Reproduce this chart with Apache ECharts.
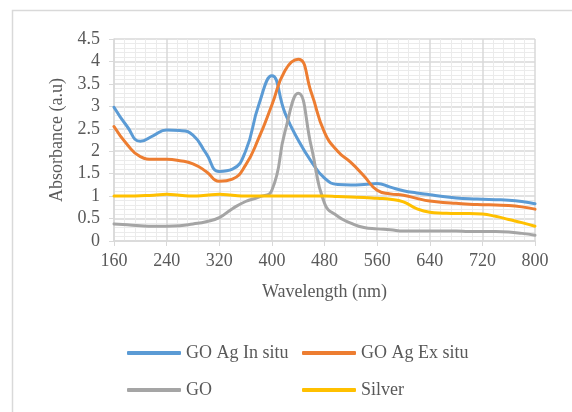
<!DOCTYPE html>
<html><head><meta charset="utf-8">
<script src="https://cdn.jsdelivr.net/npm/echarts@6/dist/echarts.min.js"></script>
<style>html,body{margin:0;padding:0;background:#fff}#c{width:572px;height:412px}</style>
</head><body><div id="c"></div>
<script>
var wavelengths = [160,180,200,220,240,260,280,300,320,340,360,380,400,420,440,460,480,500,520,540,560,580,600,620,640,660,680,700,720,740,760,780,800];
var goAgInSitu = [2.98,2.55,2.22,2.35,2.47,2.46,2.36,1.95,1.55,1.6,2.0,3.03,3.68,2.85,2.25,1.77,1.40,1.26,1.25,1.26,1.28,1.20,1.12,1.07,1.03,0.99,0.96,0.94,0.93,0.92,0.91,0.88,0.83];
var goAgExSitu = [2.55,2.15,1.88,1.82,1.82,1.79,1.72,1.55,1.33,1.38,1.69,2.29,3.03,3.8,4.05,3.3,2.42,2.0,1.75,1.45,1.13,1.05,1.02,0.95,0.89,0.86,0.84,0.82,0.81,0.80,0.79,0.76,0.71];
var goValues = [0.38,0.36,0.34,0.33,0.33,0.34,0.38,0.43,0.52,0.72,0.88,0.98,1.13,2.44,3.29,2.1,0.84,0.55,0.4,0.3,0.27,0.25,0.22,0.22,0.22,0.22,0.22,0.21,0.21,0.21,0.2,0.17,0.13];
var silverValues = [1.0,1.0,1.01,1.02,1.04,1.02,1.0,1.02,1.04,1.02,1.0,1.0,1.0,1.0,1.0,1.0,1.0,0.99,0.98,0.97,0.95,0.93,0.87,0.72,0.64,0.62,0.61,0.61,0.60,0.55,0.48,0.41,0.33];
var xTicks = [160,240,320,400,480,560,640,720,800];
var yTicks = [0,0.5,1,1.5,2,2.5,3,3.5,4,4.5];

function pairs(vals){ return wavelengths.map(function(w,i){ return [w, vals[i]]; }); }
var font = '"Liberation Serif", "Times New Roman", serif';
function mk(name, vals, color){
  return {name:name, type:'line', data:pairs(vals), smooth:0.5, symbol:'none',
    lineStyle:{color:color, width:3, cap:'round'}, itemStyle:{color:color}};
}
var chart = echarts.init(document.getElementById('c'));
chart.setOption({
  animation:false,
  graphic:[{type:'rect', shape:{x:12.5,y:10.5,width:600,height:500}, style:{fill:'none', stroke:'#d9d9d9', lineWidth:1.5}, silent:true}],
  grid:{left:114, right:37, top:39, bottom:171},
  legend:[
    {left:127, top:344, padding:0, orient:'vertical', itemGap:19, itemWidth:54, itemHeight:4, icon:'roundRect',
     textStyle:{fontFamily:font, fontSize:18, color:'#595959'}, data:['GO Ag In situ','GO']},
    {left:302, top:344, padding:0, orient:'vertical', itemGap:19, itemWidth:54, itemHeight:4, icon:'roundRect',
     textStyle:{fontFamily:font, fontSize:18, color:'#595959'}, data:['GO Ag Ex situ','Silver']}
  ],
  xAxis:{type:'value', min:xTicks[0], max:xTicks[xTicks.length-1], interval:80,
    name:'Wavelength (nm)', nameLocation:'middle', nameGap:42,
    nameTextStyle:{fontFamily:font, fontSize:18, color:'#595959'},
    axisLine:{show:true, lineStyle:{color:'#d9d9d9', width:1.5}},
    axisTick:{show:true, length:5, lineStyle:{color:'#d9d9d9'}},
    axisLabel:{fontFamily:font, fontSize:18, color:'#595959', margin:11},
    splitLine:{show:true, lineStyle:{color:'#d9d9d9', width:1.5}},
    minorTick:{show:false, splitNumber:5},
    minorSplitLine:{show:true, lineStyle:{color:'#ebebeb', width:1}}},
  yAxis:{type:'value', min:yTicks[0], max:yTicks[yTicks.length-1], interval:0.5,
    name:'Absorbance (a.u)', nameLocation:'middle', nameGap:47,
    nameTextStyle:{fontFamily:font, fontSize:18, color:'#595959'},
    axisLine:{show:true, lineStyle:{color:'#d9d9d9', width:1.5}},
    axisTick:{show:true, length:5, lineStyle:{color:'#d9d9d9'}},
    axisLabel:{fontFamily:font, fontSize:18, color:'#595959', margin:14},
    splitLine:{show:true, lineStyle:{color:'#d9d9d9', width:1.5}},
    minorTick:{show:false, splitNumber:5},
    minorSplitLine:{show:true, lineStyle:{color:'#ebebeb', width:1}}},
  series:[
    mk('GO Ag In situ', goAgInSitu, '#5B9BD5'),
    mk('GO Ag Ex situ', goAgExSitu, '#ED7D31'),
    mk('GO', goValues, '#A5A5A5'),
    mk('Silver', silverValues, '#FFC000')
  ]
});
</script></body></html>
